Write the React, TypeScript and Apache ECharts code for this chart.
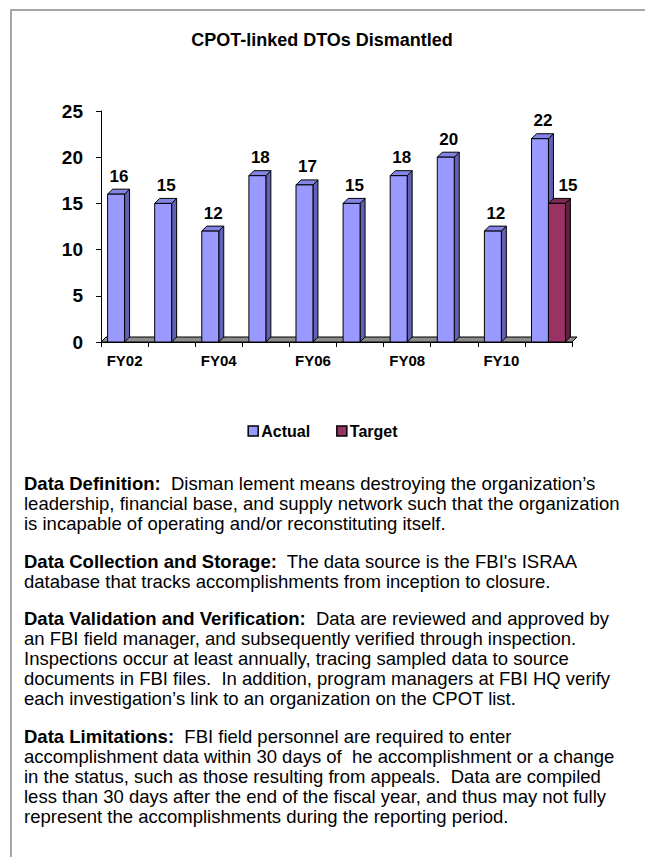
import React, { useEffect, useRef } from "react";
import * as echarts from "echarts";

const categories = ["FY02", "FY03", "FY04", "FY05", "FY06", "FY07", "FY08", "FY09", "FY10", "FY11"];
const actualValues = [16, 15, 12, 18, 17, 15, 18, 20, 12, 22];
const targetValues: (number | null)[] = [null, null, null, null, null, null, null, null, null, 15];
const seriesNames = ["Actual", "Target"];
const yMin = 0;
const yMax = 25;
const yInterval = 5;

const titleText = "CPOT-linked DTOs Dismantled";

const paragraphs: { bold: string; lines: string[] }[] = [
  {
    bold: "Data Definition:",
    lines: [
      "  Disman lement means destroying the organization\u2019s",
      "leadership, financial base, and supply network such that the organization",
      "is incapable of operating and/or reconstituting itself.",
    ],
  },
  {
    bold: "Data Collection and Storage:",
    lines: [
      "  The data source is the FBI's ISRAA",
      "database that tracks accomplishments from inception to closure.",
    ],
  },
  {
    bold: "Data Validation and Verification:",
    lines: [
      "  Data are reviewed and approved by",
      "an FBI field manager, and subsequently verified through inspection.",
      "Inspections occur at least annually, tracing sampled data to source",
      "documents in FBI files.  In addition, program managers at FBI HQ verify",
      "each investigation\u2019s link to an organization on the CPOT list.",
    ],
  },
  {
    bold: "Data Limitations:",
    lines: [
      "  FBI field personnel are required to enter",
      "accomplishment data within 30 days of  he accomplishment or a change",
      "in the status, such as those resulting from appeals.  Data are compiled",
      "less than 30 days after the end of the fiscal year, and thus may not fully",
      "represent the accomplishments during the reporting period.",
    ],
  },
];

const FONT = "'Liberation Sans', Arial, Helvetica, sans-serif";
const PARA_SIZE = 18.5;

const actualColors = { front: "#9999FF", side: "#6161B5", top: "#8484E6" };
const targetColors = { front: "#993366", side: "#5E1F40", top: "#7A2952" };

function makeBarRender(slot: number, colors: { front: string; side: string; top: string }, labelDx: number) {
  return (params: any, api: any) => {
    const v = api.value(1);
    if (v == null || isNaN(v)) return null;
    const idx = api.value(0);
    const base = api.coord([idx, 0]);
    const top = api.coord([idx, v]);
    const band = api.size([1, 0])[0];
    const bw = band * 0.36;
    const d = 5;
    const x0 = base[0] - bw + slot * bw;
    const x1 = x0 + bw;
    const yb = base[1];
    const yt = top[1];
    return {
      type: "group",
      children: [
        {
          type: "polygon",
          shape: { points: [[x1, yb], [x1, yt], [x1 + d, yt - d], [x1 + d, yb - d]] },
          style: { fill: colors.side, stroke: "#000", lineWidth: 1 },
        },
        {
          type: "polygon",
          shape: { points: [[x0, yt], [x0 + d, yt - d], [x1 + d, yt - d], [x1, yt]] },
          style: { fill: colors.top, stroke: "#000", lineWidth: 1 },
        },
        {
          type: "rect",
          shape: { x: x0, y: yt, width: bw, height: yb - yt },
          style: { fill: colors.front, stroke: "#000", lineWidth: 1 },
        },
        {
          type: "text",
          x: x0 + bw / 2 + 3 + labelDx,
          y: yt - 18,
          style: {
            text: String(v),
            font: `bold 17px ${FONT}`,
            fill: "#000",
            align: "center",
            verticalAlign: "middle",
          },
        },
      ],
    };
  };
}

function floorRender(params: any) {
  const cs = params.coordSys;
  const yb = cs.y + cs.height;
  const d = 5;
  return {
    type: "polygon",
    shape: {
      points: [
        [cs.x, yb],
        [cs.x + cs.width, yb],
        [cs.x + cs.width + d, yb - d],
        [cs.x + d, yb - d],
      ],
    },
    style: { fill: "#8C8C8C", stroke: "#000", lineWidth: 1 },
  };
}

export default function App() {
  const ref = useRef<HTMLDivElement>(null);
  useEffect(() => {
    if (!ref.current) return;
    const chart = echarts.init(ref.current, null, { renderer: "svg" });

    const graphics: any[] = [
      {
        type: "polyline",
        shape: { points: [[11, 857], [11, 10], [645, 10]] },
        style: { fill: "none", stroke: "#A6A6A6", lineWidth: 2 },
        silent: true,
      },
      {
        type: "text",
        x: 322,
        y: 40,
        style: {
          text: titleText,
          font: `bold 18px ${FONT}`,
          fill: "#000",
          align: "center",
          verticalAlign: "middle",
        },
      },
    ];

    const paraStarts = [483, 561, 618, 736];
    paragraphs.forEach((p, pi) => {
      p.lines.forEach((line, li) => {
        const y = paraStarts[pi] + li * 20;
        if (li === 0) {
          graphics.push({
            type: "text",
            x: 24,
            y,
            style: {
              text: `{b|${p.bold}}{r|${line}}`,
              rich: {
                b: { font: `bold ${PARA_SIZE}px ${FONT}`, fill: "#000" },
                r: { font: `${PARA_SIZE}px ${FONT}`, fill: "#000" },
              },
              fill: "#000",
              font: `${PARA_SIZE}px ${FONT}`,
              verticalAlign: "middle",
            },
          });
        } else {
          graphics.push({
            type: "text",
            x: 24,
            y,
            style: {
              text: line,
              font: `${PARA_SIZE}px ${FONT}`,
              fill: "#000",
              verticalAlign: "middle",
            },
          });
        }
      });
    });

    chart.setOption({
      animation: false,
      backgroundColor: "#fff",
      grid: { left: 101, top: 111, width: 471, height: 231 },
      legend: {
        data: [
          { name: seriesNames[0], itemStyle: { color: actualColors.front, borderColor: "#000", borderWidth: 1.5 } },
          { name: seriesNames[1], itemStyle: { color: targetColors.front, borderColor: "#000", borderWidth: 1.5 } },
        ],
        top: 418,
        left: "center",
        icon: "rect",
        itemWidth: 10,
        itemHeight: 10,
        itemGap: 26,
        textStyle: { fontFamily: FONT, fontWeight: "bold", fontSize: 16, color: "#000", padding: [0, 0, 0, -2] },
      },
      xAxis: {
        type: "category",
        data: categories,
        boundaryGap: true,
        axisLine: { show: true, lineStyle: { color: "#000", width: 1 } },
        axisTick: { show: true, interval: 0, length: 5, lineStyle: { color: "#000" } },
        axisLabel: {
          interval: 1,
          margin: 11,
          fontFamily: FONT,
          fontWeight: "bold",
          fontSize: 15,
          color: "#000",
        },
        splitLine: { show: false },
      },
      yAxis: {
        type: "value",
        min: yMin,
        max: yMax,
        interval: yInterval,
        axisLine: { show: true, lineStyle: { color: "#000", width: 1 } },
        axisTick: { show: true, length: 5, lineStyle: { color: "#000" } },
        axisLabel: {
          margin: 18,
          fontFamily: FONT,
          fontWeight: "bold",
          fontSize: 19,
          color: "#000",
        },
        splitLine: { show: false },
      },
      series: [
        {
          name: "floor",
          type: "custom",
          renderItem: floorRender,
          data: [[0, 0]],
          z: 1,
          silent: true,
        },
        {
          name: seriesNames[0],
          type: "custom",
          renderItem: makeBarRender(0, actualColors, 0),
          encode: { x: 0, y: 1 },
          data: actualValues.map((v, i) => [i, v]),
          itemStyle: { color: actualColors.front },
          z: 3,
        },
        {
          name: seriesNames[1],
          type: "custom",
          renderItem: makeBarRender(1, targetColors, 8),
          encode: { x: 0, y: 1 },
          data: targetValues.map((v, i) => [i, v]).filter((d) => d[1] != null),
          itemStyle: { color: targetColors.front },
          z: 4,
        },
      ],
      graphic: graphics,
    });
    return () => chart.dispose();
  }, []);
  return (
    <div
      ref={ref}
      style={{ position: "absolute", left: 0, top: 0, width: 645, height: 857 }}
    />
  );
}
